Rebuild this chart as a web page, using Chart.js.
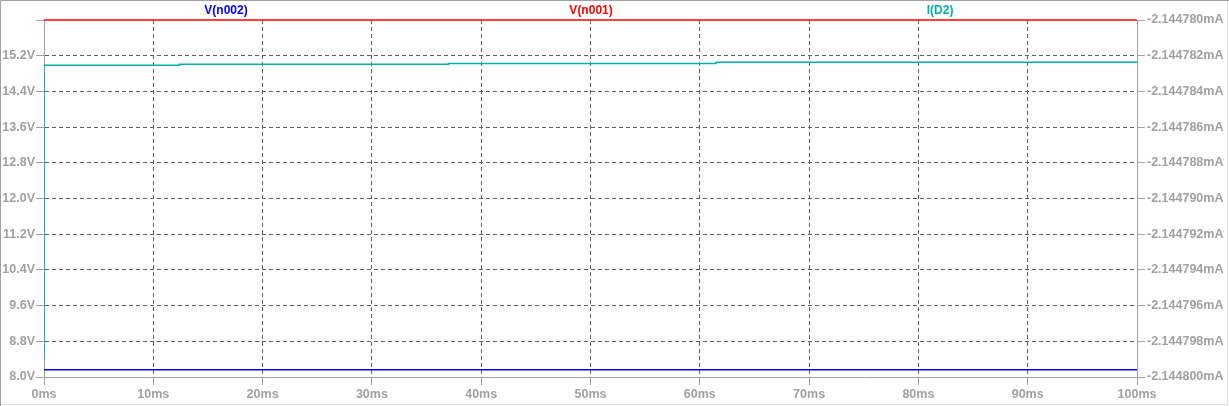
<!DOCTYPE html>
<html>
<head>
<meta charset="utf-8">
<script src="https://cdn.jsdelivr.net/npm/chart.js@4/dist/chart.umd.min.js"></script>
<style>
  html, body { margin: 0; padding: 0; background: #fff; }
  canvas { display: block; }
</style>
</head>
<body>
<canvas id="plot" width="1229" height="406"></canvas>
<script>
// trace names + colours (top labels)
const traceNames = ['V(n002)', 'V(n001)', 'I(D2)'];
const traceColors = ['#0000ff', '#ff0000', '#00b0b0'];
const labelSpots = [0.1665, 0.5005, 0.8198];   // fraction of plot width

// time axis (ms)
const timeMs = [0, 100];
const vN002 = [8.16, 8.16];
const vN001 = [16.0, 16.0];

// I(D2) in mA, small steps
const idTime = [0, 0, 12.4, 37.0, 61.5, 86.1, 100];
const idCurrent = [-2.144799, -2.14478258, -2.14478254, -2.14478248, -2.14478243, -2.14478237, -2.14478237];

const GRID = '#606060';
const AXIS = '#a0a0a0';
const tickFont = { family: "'Liberation Sans', Arial, sans-serif", size: 12.5, weight: 'bold' };

function pts(xs, ys) {
    return xs.map((x, i) => ({ x: x, y: ys[i] }));
}

function edgeHidden(ctx) {
    const n = ctx.scale.ticks.length;
    return (ctx.index === 0 || ctx.index === n - 1) ? 'rgba(0,0,0,0)' : GRID;
}

const frame = {
    id: 'frame',
    beforeDraw(chart) {
        const c = chart.ctx, w = chart.width, h = chart.height;
        c.save();
        c.fillStyle = '#fff';
        c.fillRect(0, 0, w, h);
        c.lineWidth = 1;
        c.strokeStyle = '#a0a0a0';
        c.beginPath();
        c.moveTo(0.5, h); c.lineTo(0.5, 0.5); c.lineTo(w, 0.5);
        c.stroke();
        c.strokeStyle = '#e3e3e3';
        c.beginPath();
        c.moveTo(1, h - 1.5); c.lineTo(w - 1.5, h - 1.5); c.lineTo(w - 1.5, 1);
        c.stroke();
        c.restore();
    },
    afterDraw(chart) {
        const a = chart.chartArea, c = chart.ctx;
        c.save();
        c.font = "bold 12px 'Liberation Sans', Arial, sans-serif";
        c.textAlign = 'center';
        c.textBaseline = 'middle';
        traceNames.forEach((name, i) => {
            c.fillStyle = traceColors[i];
            c.fillText(name, a.left + labelSpots[i] * (a.right - a.left), 11);
        });
        c.restore();
    }
};

new Chart(document.getElementById('plot'), {
    type: 'line',
    data: {
        datasets: [
            { label: traceNames[0], data: pts(timeMs, vN002), yAxisID: 'yv',
              borderColor: traceColors[0], borderWidth: 1.5, pointRadius: 0 },
            { label: traceNames[1], data: pts(timeMs, vN001), yAxisID: 'yv',
              borderColor: traceColors[1], borderWidth: 1.5, pointRadius: 0, clip: false },
            { label: traceNames[2], data: pts(idTime, idCurrent), yAxisID: 'yi',
              borderColor: traceColors[2], borderWidth: 1.5, pointRadius: 0,
              stepped: 'after' }
        ]
    },
    options: {
        responsive: false,
        animation: false,
        layout: { padding: { top: 20, left: 0, right: 0, bottom: 0 } },
        plugins: { legend: { display: false }, tooltip: { enabled: false } },
        scales: {
            x: {
                type: 'linear', min: 0, max: 100,
                ticks: { stepSize: 10, color: AXIS, font: tickFont, padding: 2,
                         maxRotation: 0, callback: v => v + 'ms' },
                grid: { color: edgeHidden, tickColor: AXIS, tickLength: 8 },
                border: { color: AXIS, dash: [4, 3] },
                afterFit(s) { s.height = 29; }
            },
            yv: {
                type: 'linear', position: 'left', min: 8, max: 16,
                ticks: { stepSize: 0.8, color: AXIS, font: tickFont, padding: 1,
                         callback: v => (Math.abs(v - 16) < 1e-6 ? '' : v.toFixed(1) + 'V') },
                grid: { color: edgeHidden, tickColor: AXIS, tickLength: 8 },
                border: { color: AXIS, dash: [4, 3] },
                afterFit(s) { s.width = 44; }
            },
            yi: {
                type: 'linear', position: 'right', min: -2.1448, max: -2.14478,
                ticks: { stepSize: 0.000002, color: AXIS, font: tickFont, padding: 2,
                         callback: v => v.toFixed(6) + 'mA' },
                grid: { drawOnChartArea: false, tickColor: AXIS, tickLength: 8 },
                border: { color: AXIS },
                afterFit(s) { s.width = 92; }
            }
        }
    },
    plugins: [frame]
});
</script>
</body>
</html>
